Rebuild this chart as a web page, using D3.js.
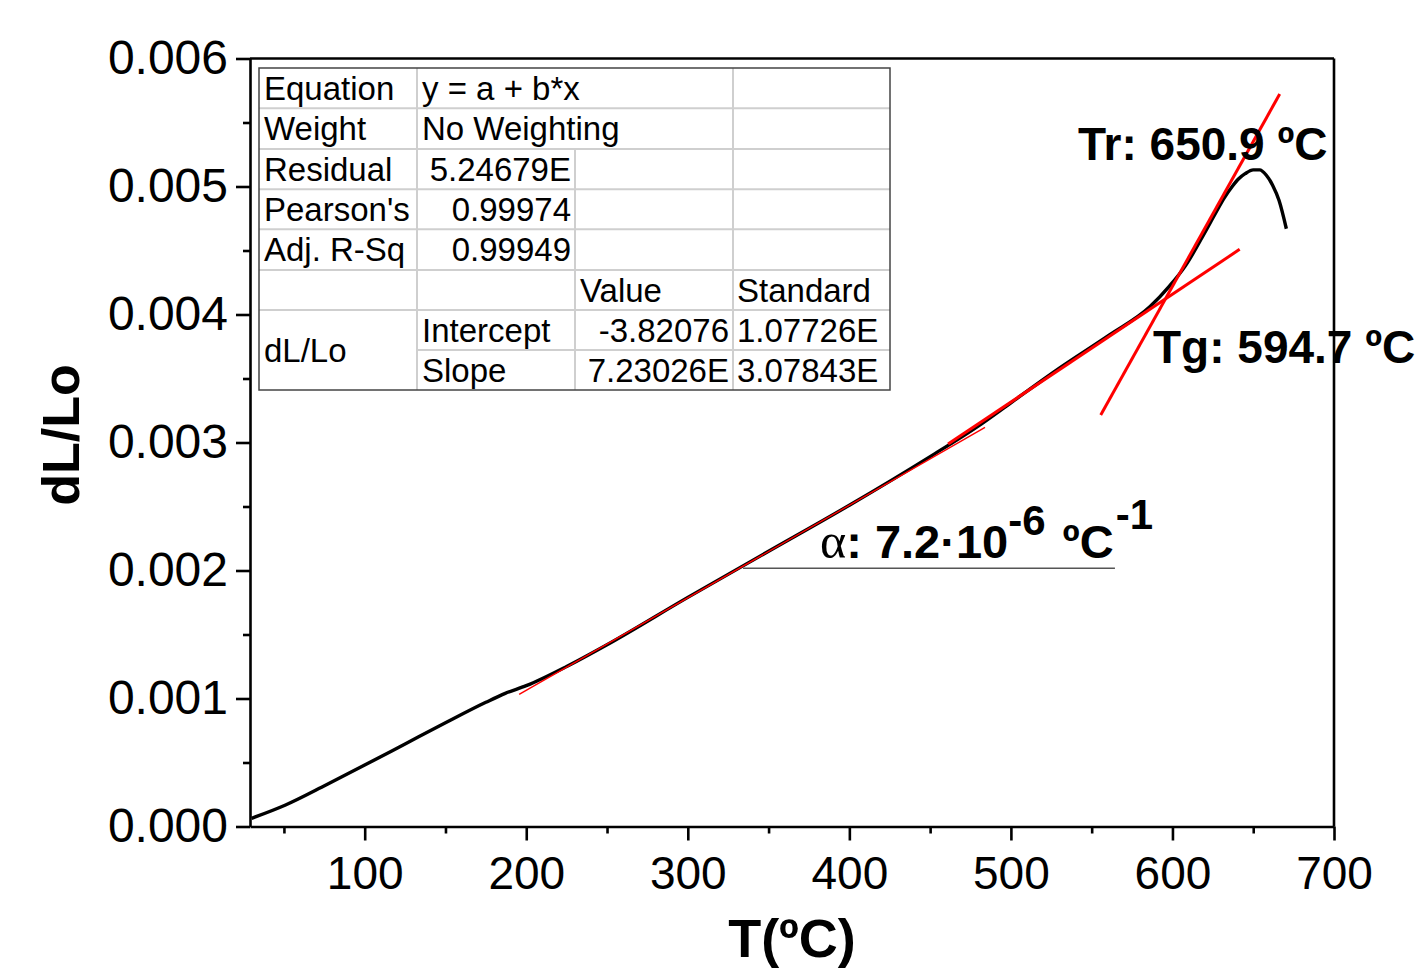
<!DOCTYPE html>
<html>
<head>
<meta charset="utf-8">
<script src="https://cdn.jsdelivr.net/npm/d3@7"></script>
<style>
  html, body { margin: 0; padding: 0; background: #fff; }
  svg { display: block; font-family: "Liberation Sans", Arial, sans-serif; }
</style>
</head>
<body>
<svg id="chart" width="1416" height="973"></svg>
<script>
// ---------------- data ----------------
const temps = [30, 51, 76, 100, 125, 150, 175, 187, 200, 225, 250, 300, 350, 400, 450, 480, 500, 530, 561, 586, 598, 608, 620, 627, 632, 637, 641, 645, 650, 654, 658, 662, 666, 670.5];
const dLLo  = [0.000064, 0.000168, 0.000324, 0.00048, 0.000645, 0.00081, 0.00097, 0.00104, 0.0011, 0.00125, 0.00142, 0.00179, 0.00215, 0.00251, 0.00289, 0.00313, 0.00331, 0.00358, 0.00384, 0.00406, 0.00422, 0.00438, 0.00464, 0.0048, 0.00491, 0.005, 0.00506, 0.0051, 0.00513, 0.00513, 0.00509, 0.00501, 0.00489, 0.00467];

const fitIntercept = -3.82076e-4;
const fitSlope = 7.23026e-6;
const fitTRange = [195.6, 484];

const tangentTgT = [461.1, 641.6];
const tangentTgY = [0.002988, 0.004509];
const tangentTrT = [555.6, 666.4];
const tangentTrY = [0.003215, 0.005723];

const alphaGuideT = [334.2, 564.4];
const alphaGuideY = 0.002017;

const xTicks = [100, 200, 300, 400, 500, 600, 700];
const xMinorTicks = [50, 150, 250, 350, 450, 550, 650];
const yTicks = [0, 0.001, 0.002, 0.003, 0.004, 0.005, 0.006];
const yMinorTicks = [0.0005, 0.0015, 0.0025, 0.0035, 0.0045, 0.0055];

const tableRows = [
  ["Equation", "y = a + b*x", "", ""],
  ["Weight", "No Weighting", "", ""],
  ["Residual", "5.24679E", "", ""],
  ["Pearson's", "0.99974", "", ""],
  ["Adj. R-Sq", "0.99949", "", ""],
  ["", "", "Value", "Standard"],
  ["dL/Lo", "Intercept", "-3.82076", "1.07726E"],
  ["", "Slope", "7.23026E", "3.07843E"]
];

// ---------------- layout ----------------
const svg = d3.select("#chart");
const L = 250, R = 1334, T0 = 58.5, B = 826.5;
const x = d3.scaleLinear().domain([29, 700]).range([L, R]);
const y = d3.scaleLinear().domain([0, 0.006]).range([B, T0]);

const axisStroke = 2.6;

// frame (top + right)
svg.append("line").attr("x1", L).attr("x2", R).attr("y1", T0).attr("y2", T0)
  .attr("stroke", "#000").attr("stroke-width", axisStroke);
svg.append("line").attr("x1", R).attr("x2", R).attr("y1", T0).attr("y2", B)
  .attr("stroke", "#000").attr("stroke-width", axisStroke);

// x axis
const gx = svg.append("g").attr("transform", `translate(0,${B})`)
  .call(d3.axisBottom(x).tickValues(xTicks).tickSize(14).tickSizeOuter(0).tickPadding(16).tickFormat(d3.format("d")));
gx.selectAll("text").attr("font-size", 46).attr("fill", "#000").attr("font-family", "Liberation Sans, Arial, sans-serif");
const gxm = svg.append("g").attr("transform", `translate(0,${B})`)
  .call(d3.axisBottom(x).tickValues(xMinorTicks).tickSize(7).tickSizeOuter(0).tickFormat(""));
gxm.select(".domain").remove();

// y axis
const gy = svg.append("g").attr("transform", `translate(${L},0)`)
  .call(d3.axisLeft(y).tickValues(yTicks).tickSize(14).tickSizeOuter(0).tickPadding(8).tickFormat(d3.format(".3f")));
gy.selectAll("text").attr("font-size", 48).attr("fill", "#000").attr("font-family", "Liberation Sans, Arial, sans-serif");
const gym = svg.append("g").attr("transform", `translate(${L},0)`)
  .call(d3.axisLeft(y).tickValues(yMinorTicks).tickSize(7).tickSizeOuter(0).tickFormat(""));
gym.select(".domain").remove();

svg.selectAll(".domain, .tick line").attr("stroke", "#000").attr("stroke-width", axisStroke);

// axis titles
svg.append("text").attr("x", 792).attr("y", 957).attr("text-anchor", "middle")
  .attr("font-size", 54).attr("font-weight", "bold").text("T(ºC)");
svg.append("text").attr("transform", "translate(79,435) rotate(-90)").attr("text-anchor", "middle")
  .attr("font-size", 52).attr("font-weight", "bold").text("dL/Lo");

// data curve
const pts = temps.map((t, i) => [t, dLLo[i]]);
const line = d3.line().x(d => x(d[0])).y(d => y(d[1])).curve(d3.curveMonotoneX);
svg.append("path").datum(pts).attr("d", line).attr("fill", "none")
  .attr("stroke", "#000").attr("stroke-width", 3.4).attr("stroke-linejoin", "round");

// linear fit line (thin red)
const fitPts = fitTRange.map(t => [t, fitIntercept + fitSlope * t]);
svg.append("path").datum(fitPts).attr("d", d3.line().x(d => x(d[0])).y(d => y(d[1])))
  .attr("fill", "none").attr("stroke", "#ff0000").attr("stroke-width", 1.4);

// tangents
const straight = d3.line().x(d => x(d[0])).y(d => y(d[1]));
[[tangentTgT, tangentTgY], [tangentTrT, tangentTrY]].forEach(([ts, ys]) => {
  svg.append("path").datum(ts.map((t, i) => [t, ys[i]])).attr("d", straight)
    .attr("fill", "none").attr("stroke", "#ff0000").attr("stroke-width", 3);
});

// alpha guide line
svg.append("line").attr("x1", x(alphaGuideT[0])).attr("x2", x(alphaGuideT[1]))
  .attr("y1", y(alphaGuideY)).attr("y2", y(alphaGuideY))
  .attr("stroke", "#555").attr("stroke-width", 1.6);

// annotations
svg.append("text").attr("x", 1078).attr("y", 160).attr("font-size", 46).attr("font-weight", "bold").text("Tr: 650.9 ºC");
svg.append("text").attr("x", 1153).attr("y", 363).attr("font-size", 46).attr("font-weight", "bold").text("Tg: 594.7 ºC");

const at = svg.append("text").attr("x", 820).attr("y", 558).attr("font-size", 47).attr("font-weight", "bold");
at.append("tspan").attr("font-family", "Liberation Serif, Times New Roman, serif").attr("font-weight", "normal").attr("font-size", 50).text("α");
at.append("tspan").text(": 7.2·10");
at.append("tspan").attr("font-size", 42).attr("dy", -23).text("-6");
at.append("tspan").attr("dy", 23).attr("dx", 4).text(" ºC");
at.append("tspan").attr("font-size", 42).attr("dy", -29).attr("dx", 2).text("-1");

// ---------------- table ----------------
const colX = [259, 417, 575, 733, 890];
const rowY = [68, 108.3, 149, 189.3, 229.3, 270, 310, 350, 390];
const tg = svg.append("g").attr("font-size", 33).attr("fill", "#000");
const inner = "#cfcfcf";
for (let r = 1; r < 8; r++) {
  const x1 = (r === 7) ? colX[1] : colX[0];
  tg.append("line").attr("x1", x1).attr("x2", colX[4]).attr("y1", rowY[r]).attr("y2", rowY[r])
    .attr("stroke", inner).attr("stroke-width", 2);
}
tg.append("line").attr("x1", colX[1]).attr("x2", colX[1]).attr("y1", rowY[0]).attr("y2", rowY[8]).attr("stroke", inner).attr("stroke-width", 2);
tg.append("line").attr("x1", colX[2]).attr("x2", colX[2]).attr("y1", rowY[2]).attr("y2", rowY[8]).attr("stroke", inner).attr("stroke-width", 2);
tg.append("line").attr("x1", colX[3]).attr("x2", colX[3]).attr("y1", rowY[0]).attr("y2", rowY[8]).attr("stroke", inner).attr("stroke-width", 2);
tg.append("rect").attr("x", colX[0]).attr("y", rowY[0]).attr("width", colX[4] - colX[0]).attr("height", rowY[8] - rowY[0])
  .attr("fill", "none").attr("stroke", "#444").attr("stroke-width", 1.5);

const numeric = /^-?[0-9.]+E?$/;
tableRows.forEach((row, r) => {
  row.forEach((txt, c) => {
    if (!txt) return;
    let yy = rowY[r] + 31.5;
    if (txt === "dL/Lo") yy = (rowY[6] + rowY[8]) / 2 + 11.5;
    let anchor = "start", xx = colX[c] + 5;
    if (numeric.test(txt) && c < 3) { anchor = "end"; xx = colX[c + 1] - 4; }
    if (c === 3) { xx = colX[3] + 4; }
    tg.append("text").attr("x", xx).attr("y", yy).attr("text-anchor", anchor).text(txt);
  });
});
</script>
</body>
</html>
